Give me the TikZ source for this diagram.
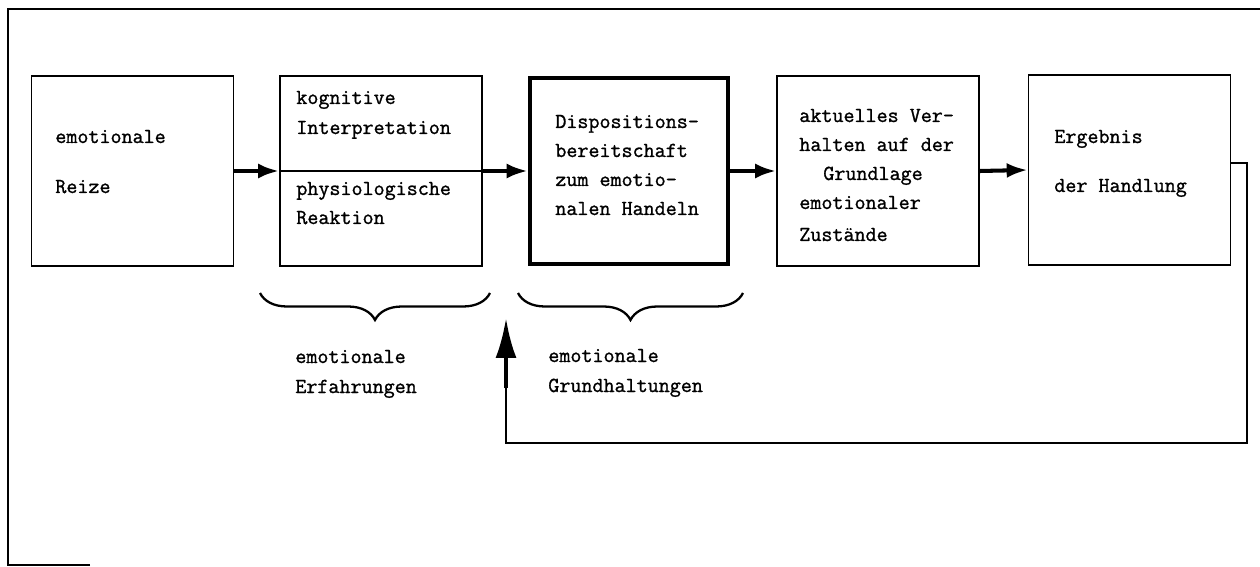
\documentclass[tikz,border=0pt]{standalone}
\usepackage{fontspec}
\newfontfamily\tw[FakeBold=1.2]{Latin Modern Mono}
\usetikzlibrary{arrows.meta,decorations.pathreplacing}
\tikzset{
  box/.style={draw, line width=1pt, minimum width=4.04cm, minimum height=3.8cm, inner sep=0pt},
  boldbox/.style={box, line width=2.6pt, minimum width=3.96cm, minimum height=3.72cm},
  txt/.style={anchor=base west, inner sep=0pt, font=\tw\fontsize{12.2}{14}\selectfont},
  flow/.style={line width=2.3pt, -{Latex[length=0.42cm,width=0.3cm]}},
  upflow/.style={line width=2.3pt, -{Latex[length=0.8cm,width=0.42cm]}},
  thin/.style={line width=0.9pt},
  curly/.style={line width=1.3pt, decorate, decoration={brace, mirror, amplitude=0.54cm}},
}
\begin{document}
\begin{tikzpicture}[x=0.02cm,y=-0.02cm]
\useasboundingbox (0,0) rectangle (1260,567);
% outer frame
\coordinate (fa) at (90,565);
\coordinate (fb) at (8,565);
\coordinate (fc) at (8,9);
\coordinate (fd) at (1260,9);
\draw[line width=1pt] (fa) -- (fb) -- (fc) -- (fd);

% boxes
\node[box] (b1) at (132.5,171) {};
\node[box] (b2) at (381,171) {};
\node[boldbox] (b3) at (629,171) {};
\node[box] (b4) at (878,171) {};
\node[box] (b5) at (1129.5,170) {};

% divider in box 2
\draw[thin] (b2.west) -- (b2.east);

% texts
\node[txt] (t11) at (55,143) {emotionale};
\node[txt] (t12) at (55,193) {Reize};

\node[txt] (t21) at (296,104) {kognitive};
\node[txt] (t22) at (296,134) {Interpretation};
\node[txt] (t23) at (296,195) {physiologische};
\node[txt] (t24) at (296,224) {Reaktion};

\node[txt] (t31) at (555,128) {Dispositions-};
\node[txt] (t32) at (555,157) {bereitschaft};
\node[txt] (t33) at (555,186) {zum emotio-};
\node[txt] (t34) at (555,215) {nalen Handeln};

\node[txt] (t41) at (799,122) {aktuelles Ver-};
\node[txt] (t42) at (799,151) {halten auf der};
\node[txt] (t43) at (823,180) {Grundlage};
\node[txt] (t44) at (799,209) {emotionaler};
\node[txt] (t45) at (799,241) {Zustände};

\node[txt] (t51) at (1054,143) {Ergebnis};
\node[txt] (t52) at (1054,192) {der Handlung};

\node[txt] (e1) at (295,363) {emotionale};
\node[txt] (e2) at (295,393) {Erfahrungen};
\node[txt] (g1) at (548,362) {emotionale};
\node[txt] (g2) at (548,392) {Grundhaltungen};

% flow arrows
\draw[flow] (b1.east) -- (b2.west);
\draw[flow] (b2.east) -- (b3.west);
\draw[flow] (b3.east) -- (b4.west);
\draw[flow] (b4.east) -- (b5.west);

% braces
\coordinate (br1a) at (260,293);
\coordinate (br1b) at (490,293);
\coordinate (br2a) at (518,293);
\coordinate (br2b) at (743,293);
\draw[curly] (br1a) -- (br1b);
\draw[curly] (br2a) -- (br2b);

% feedback loop
\coordinate (f1) at (1247,163);
\coordinate (f2) at (1247,443);
\coordinate (f3) at (506,443);
\coordinate (f4) at (506,388);
\coordinate (tip) at (506,318);
\draw[thin] (b5.east |- f1) -- (f1) -- (f2) -- (f3) -- (f4);
\draw[upflow] (f4) -- (tip);
\end{tikzpicture}
\end{document}
